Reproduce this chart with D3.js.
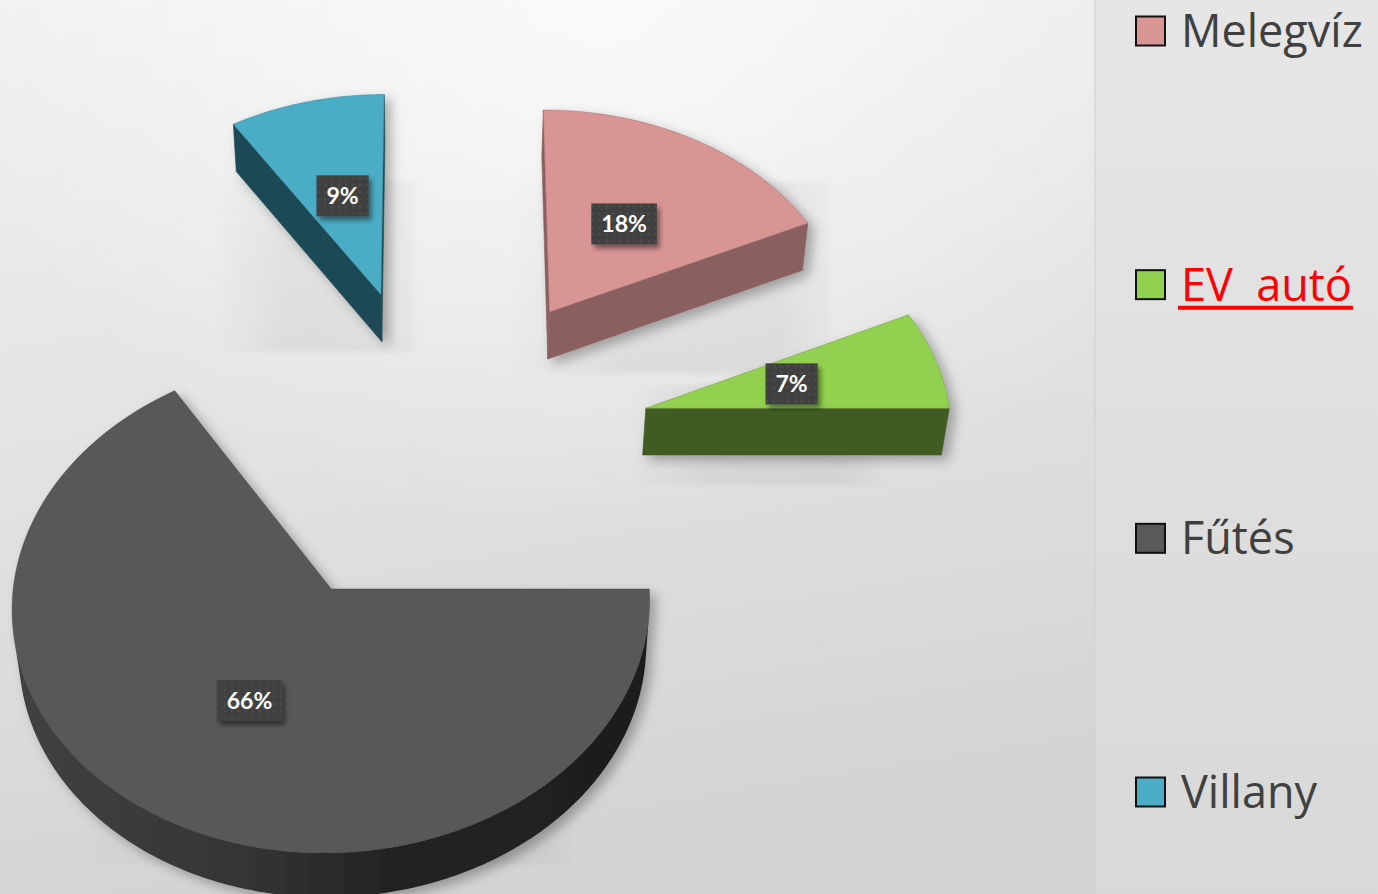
<!DOCTYPE html>
<html>
<head>
<meta charset="utf-8">
<script src="https://cdn.jsdelivr.net/npm/d3@7"></script>
<style>
  html, body { margin: 0; padding: 0; background: #e2e2e2; }
  svg { display: block; }
</style>
</head>
<body>
<svg id="chart" width="1378" height="894"></svg>
<script>
// ---- data ----
const categories = ["Melegvíz", "EV  autó", "Fűtés", "Villany"];
const values = [18, 7, 66, 9];
const valueLabels = ["18%", "7%", "66%", "9%"];
const topColors = ["#d99594", "#92d050", "#595959", "#4bacc6"];
const sideColors = ["#8a5f5e", "#3f5c21", "#2a2a2a", "#1e4954"];

// ---- layout ----
const W = 1378, H = 894;
const legendX = 1095;
const view = { cx: 438.5, cy: 443, phi: 48.5 * Math.PI / 180, D: 11, f: 3369 };
const explode = 0.7, thickness = 0.233, radius = 1;
const sinP = Math.sin(view.phi), cosP = Math.cos(view.phi);
const camera = [0, -view.D * cosP, view.D * sinP];
// floor shadow boxes per slice, as offsets from the slice's drawn bounds
// [left, top (fraction of height), right, bottom]
const floorShadow = [[-32, 0.29, 22, 15], [-15, 0.5, -70, 30], [66, 0.5, -80, -33], [-18, 0.35, 30, 10]];

// perspective projection of a point on the tilted pie plane
function project(X, Y, Z) {
  const w = view.D + Y * cosP - Z * sinP;
  return [view.cx + view.f * X / w, view.cy - view.f * (Y * sinP + Z * cosP) / w];
}

const svg = d3.select("#chart");
const defs = svg.append("defs");

// background gradients
const bg = defs.append("linearGradient").attr("id", "bgGrad")
  .attr("x1", 0).attr("y1", 0).attr("x2", 0.25).attr("y2", 1);
bg.append("stop").attr("offset", 0).attr("stop-color", "#f1f1f1");
bg.append("stop").attr("offset", 0.55).attr("stop-color", "#e1e1e1");
bg.append("stop").attr("offset", 1).attr("stop-color", "#d3d3d3");
const glow = defs.append("radialGradient").attr("id", "bgGlow")
  .attr("cx", 0.55).attr("cy", 0.0).attr("r", 0.6);
glow.append("stop").attr("offset", 0).attr("stop-color", "#ffffff").attr("stop-opacity", 0.7);
glow.append("stop").attr("offset", 1).attr("stop-color", "#ffffff").attr("stop-opacity", 0);
const lg = defs.append("linearGradient").attr("id", "legendGrad")
  .attr("x1", 0).attr("y1", 0).attr("x2", 0).attr("y2", 1);
lg.append("stop").attr("offset", 0).attr("stop-color", "#e6e6e6");
lg.append("stop").attr("offset", 1).attr("stop-color", "#d8d8d8");

// wall shading for the large slice
const wallGrad = defs.append("linearGradient").attr("id", "wallGrad")
  .attr("gradientUnits", "userSpaceOnUse")
  .attr("x1", 10).attr("y1", 0).attr("x2", 660).attr("y2", 0);
wallGrad.append("stop").attr("offset", 0).attr("stop-color", "#414141");
wallGrad.append("stop").attr("offset", 0.35).attr("stop-color", "#353535");
wallGrad.append("stop").attr("offset", 0.6).attr("stop-color", "#222222");
wallGrad.append("stop").attr("offset", 1).attr("stop-color", "#1e1e1e");

// fading fill for floor shadows
const fade = defs.append("linearGradient").attr("id", "shadowFade")
  .attr("x1", 0).attr("y1", 0).attr("x2", 1).attr("y2", 0);
fade.append("stop").attr("offset", 0).attr("stop-color", "#000").attr("stop-opacity", 0);
fade.append("stop").attr("offset", 0.35).attr("stop-color", "#000").attr("stop-opacity", 0.05);
fade.append("stop").attr("offset", 0.85).attr("stop-color", "#000").attr("stop-opacity", 0.05);
fade.append("stop").attr("offset", 1).attr("stop-color", "#000").attr("stop-opacity", 0.015);
defs.append("filter").attr("id", "softEdge")
  .attr("x", -0.1).attr("y", -0.1).attr("width", 1.2).attr("height", 1.2)
  .append("feGaussianBlur").attr("stdDeviation", 2);

// shadows
const sh = defs.append("filter").attr("id", "sliceShadow")
  .attr("x", -0.2).attr("y", -0.2).attr("width", 1.5).attr("height", 1.5);
sh.append("feGaussianBlur").attr("in", "SourceAlpha").attr("stdDeviation", 6).attr("result", "b");
sh.append("feOffset").attr("in", "b").attr("dx", 6).attr("dy", 5).attr("result", "o");
sh.append("feComponentTransfer").attr("in", "o").attr("result", "s")
  .append("feFuncA").attr("type", "linear").attr("slope", 0.3);
const shm = sh.append("feMerge");
shm.append("feMergeNode").attr("in", "s");
shm.append("feMergeNode").attr("in", "SourceGraphic");

const lsh = defs.append("filter").attr("id", "labelShadow")
  .attr("x", -0.3).attr("y", -0.3).attr("width", 1.6).attr("height", 1.7);
lsh.append("feGaussianBlur").attr("in", "SourceAlpha").attr("stdDeviation", 2.5).attr("result", "b");
lsh.append("feOffset").attr("in", "b").attr("dx", 3).attr("dy", 4).attr("result", "o");
lsh.append("feComponentTransfer").attr("in", "o").attr("result", "s")
  .append("feFuncA").attr("type", "linear").attr("slope", 0.45);
const lshm = lsh.append("feMerge");
lshm.append("feMergeNode").attr("in", "s");
lshm.append("feMergeNode").attr("in", "SourceGraphic");

// dotted texture for the value boxes
const pat = defs.append("pattern").attr("id", "dots")
  .attr("patternUnits", "userSpaceOnUse").attr("width", 7).attr("height", 7);
pat.append("rect").attr("width", 7).attr("height", 7).attr("fill", "#404040");
pat.append("circle").attr("cx", 3.5).attr("cy", 3.5).attr("r", 1).attr("fill", "#555555");

// ---- background ----
svg.append("rect").attr("width", W).attr("height", H).attr("fill", "url(#bgGrad)");
svg.append("rect").attr("width", legendX).attr("height", H).attr("fill", "url(#bgGlow)");
svg.append("rect").attr("x", legendX).attr("width", W - legendX).attr("height", H)
  .attr("fill", "url(#legendGrad)");
svg.append("line").attr("x1", legendX).attr("x2", legendX).attr("y1", 0).attr("y2", H)
  .attr("stroke", "#d0d0d0").attr("stroke-width", 1);

// ---- pie ----
const pie = d3.pie().sort(null).value(d => d).startAngle(0).endAngle(2 * Math.PI);
const arcs = pie(values);
const line = d3.line();
const step = Math.PI / 360;

function anglesBetween(a0, a1) {
  const n = Math.max(2, Math.ceil((a1 - a0) / step));
  return d3.range(n + 1).map(k => a0 + (a1 - a0) * k / n);
}

const slices = arcs.map((a, i) => {
  const mid = (a.startAngle + a.endAngle) / 2;
  const ox = explode * Math.sin(mid), oy = explode * Math.cos(mid);
  return { i, a, mid, ox, oy };
});
// far slices first
slices.sort((p, q) => q.oy - p.oy);

const shadowLayer = svg.append("g");
const pieLayer = svg.append("g");
slices.forEach(s => {
  const { i, a, ox, oy } = s;
  const g = pieLayer.append("g").attr("filter", "url(#sliceShadow)");
  const rim = (ang, Z) => project(ox + radius * Math.sin(ang), oy + radius * Math.cos(ang), Z);
  const apexTop = project(ox, oy, 0), apexBot = project(ox, oy, -thickness);
  const toCam = [camera[0] - ox, camera[1] - oy];

  // radial cut faces
  const faces = [
    { ang: a.startAngle, n: [-Math.cos(a.startAngle), Math.sin(a.startAngle)] },
    { ang: a.endAngle, n: [Math.cos(a.endAngle), -Math.sin(a.endAngle)] }
  ];
  faces.forEach(fc => {
    if (toCam[0] * fc.n[0] + toCam[1] * fc.n[1] <= 0) return;
    const pts = [apexTop, rim(fc.ang, 0), rim(fc.ang, -thickness), apexBot];
    g.append("path").attr("d", line(pts) + "Z")
      .attr("fill", sideColors[i]).attr("stroke", sideColors[i]).attr("stroke-width", 0.6);
  });

  // outer curved wall, only the parts facing the viewer
  const angs = anglesBetween(a.startAngle, a.endAngle);
  let run = [];
  const runs = [];
  angs.forEach(t => {
    const px = ox + radius * Math.sin(t), py = oy + radius * Math.cos(t);
    const d = (camera[0] - px) * Math.sin(t) + (camera[1] - py) * Math.cos(t);
    if (d > 0) run.push(t);
    else if (run.length) { runs.push(run); run = []; }
  });
  if (run.length) runs.push(run);
  runs.forEach(r => {
    if (r.length < 2) return;
    const pts = r.map(t => rim(t, 0)).concat(r.slice().reverse().map(t => rim(t, -thickness)));
    g.append("path").attr("d", line(pts) + "Z")
      .attr("fill", i === 2 ? "url(#wallGrad)" : sideColors[i])
      .attr("stroke", "none");
  });

  // top face
  const topPts = [apexTop].concat(angs.map(t => rim(t, 0)));
  g.append("path").attr("d", line(topPts) + "Z")
    .attr("fill", topColors[i])
    .attr("stroke", d3.color(topColors[i]).darker(0.9))
    .attr("stroke-width", 0.8).attr("stroke-opacity", 0.6)
    .attr("stroke-linejoin", "round");

  // soft floor shadow box behind the slice
  const bb = g.node().getBBox();
  const [l, tf, r, b] = floorShadow[i];
  const x0 = bb.x + l, x1 = bb.x + bb.width + r;
  const y0 = bb.y + tf * bb.height, y1 = bb.y + bb.height + b;
  shadowLayer.append("rect")
    .attr("x", x0).attr("y", y0).attr("width", x1 - x0).attr("height", y1 - y0)
    .attr("fill", "url(#shadowFade)").attr("filter", "url(#softEdge)");
});

// ---- value labels ----
const labelLayer = svg.append("g");
slices.forEach(s => {
  const r = 0.5 * radius;
  const [lx, ly] = project(s.ox + r * Math.sin(s.mid), s.oy + r * Math.cos(s.mid), 0);
  const g = labelLayer.append("g").attr("transform", `translate(${lx},${ly})`);
  const box = g.append("rect").attr("fill", "url(#dots)").attr("filter", "url(#labelShadow)");
  const txt = g.append("text")
    .attr("text-anchor", "middle").attr("dy", "0.36em")
    .attr("font-family", "Lato, 'Open Sans', sans-serif").attr("font-weight", 700)
    .attr("font-size", 23).attr("fill", "#ffffff")
    .text(valueLabels[s.i]);
  const tw = txt.node().getComputedTextLength();
  const bw = tw + 20, bh = 41;
  box.attr("x", -bw / 2).attr("y", -bh / 2).attr("width", bw).attr("height", bh);
});

// ---- legend ----
const legendY = d3.scalePoint().domain(categories).range([31, 792]);
const legend = svg.append("g");
categories.forEach((c, i) => {
  const y = legendY(c);
  legend.append("rect").attr("x", 1136).attr("y", y - 14.5).attr("width", 29).attr("height", 29)
    .attr("fill", topColors[i]).attr("stroke", "#111111").attr("stroke-width", 2);
  const isLink = i === 1;
  const t = legend.append("text").attr("x", 1181).attr("y", y + 16)
    .attr("font-family", "'Open Sans', sans-serif").attr("font-size", 45)
    .attr("fill", isLink ? "#ff0000" : "#404040")
    .style("white-space", "pre")
    .text(c);
  if (isLink) {
    const tw = t.node().getComputedTextLength();
    legend.append("line").attr("x1", 1178).attr("x2", 1181 + tw + 1)
      .attr("y1", y + 23).attr("y2", y + 23)
      .attr("stroke", "#ff0000").attr("stroke-width", 4);
  }
});
</script>
</body>
</html>
